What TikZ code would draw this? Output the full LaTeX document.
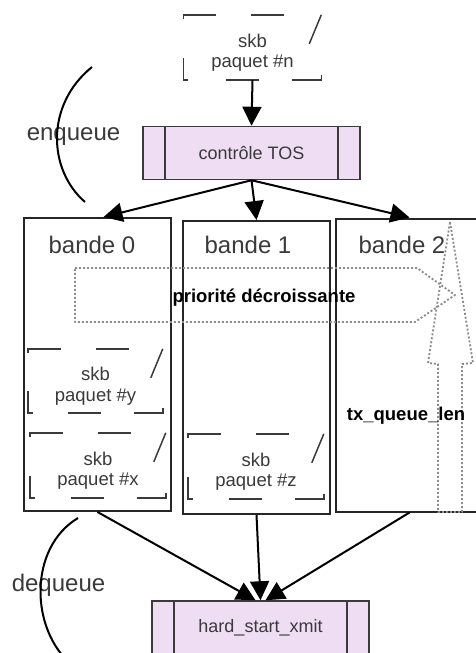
\documentclass[tikz,border=0pt]{standalone}
\usepackage{fontspec}
\setmainfont{Liberation Sans}
\usetikzlibrary{arrows.meta}

\definecolor{procfill}{HTML}{EFDDF3}
\definecolor{ink}{HTML}{3A3A3A}
\definecolor{dotgrey}{HTML}{8C8C8C}

% broken dashed frame of an skb packet, drawn from the node's top-left corner
% #1 node name, #2 width, #3 height
\newcommand\skbframe[3]{%
  \begin{scope}[shift={(#1.north west)}, skbline]
    \draw (0,4) -- (0,0) -- (33,0);
    \draw (68,0) -- (101,0);
    \draw (#2,0) -- ({#2-12},29);
    \draw (#2,{#3-5}) -- (#2,#3) -- ({#2-29},#3);
    \draw ({#2-62},#3) -- ({#2-95},#3);
    \draw (5,#3) -- (0,#3) -- (0,{#3-22});
  \end{scope}}

% taller first line, so the two text lines sit a little low in the frame
\newcommand\skbstrut{\rule{0pt}{24pt}}

\tikzset{
  band/.style={draw=black!85, line width=2pt, minimum width=147pt,
    minimum height=293pt, inner sep=0pt},
  proc/.style={draw=ink, line width=1.5pt, fill=procfill, minimum width=217pt,
    minimum height=53pt, inner sep=0pt, text=ink,
    font=\fontsize{18}{20}\selectfont,
    path picture={\draw[ink, line width=1.5pt]
      ([xshift=22pt]path picture bounding box.north west) --
      ([xshift=22pt]path picture bounding box.south west)
      ([xshift=-22pt]path picture bounding box.north east) --
      ([xshift=-22pt]path picture bounding box.south east);}},
  skbbox/.style={minimum width=136pt, minimum height=65pt, inner sep=0pt,
    align=center, text=ink, font=\fontsize{18.5}{20.5}\selectfont},
  skbline/.style={draw=ink, line width=1.5pt},
  arr/.style={-{Triangle[length=19pt,width=19pt]}, line width=2pt, black},
  dotarrow/.style={draw=dotgrey, line width=1.8pt, dash pattern=on 2pt off 2pt,
    line join=round},
  biglabel/.style={text=ink, font=\fontsize{24}{26}\selectfont, inner sep=0pt},
  boldlabel/.style={text=black, font=\bfseries\fontsize{18.5}{20}\selectfont,
    inner sep=0pt},
}

\begin{document}
\begin{tikzpicture}[x=1pt, y=-1pt]
  \clip (0,0) rectangle (476,653);
  \fill[white] (0,0) rectangle (476,653);

  % incoming packet and TOS classifier
  \node[skbbox, minimum width=138pt] (pn) at (252.5,47.5) {\skbstrut skb\\paquet \#n};
  \skbframe{pn}{138}{65}
  \node[proc] (tos) at (251.5,153) {contrôle TOS};

  % the three bands
  \node[band] (b0) at (97.5,364.5) {};
  \node[band] (b1) at (256.5,367.5) {};
  \node[band] (b2) at (409.5,365) {};
  \node[biglabel] (t0) at (92,245) {bande 0};
  \node[biglabel] (t1) at (248,245) {bande 1};
  \node[biglabel] (t2) at (402,245) {bande 2};

  % queued packets
  \node[skbbox, minimum width=135pt, minimum height=64pt] (py) at (95.5,381) {\skbstrut skb\\paquet \#y};
  \skbframe{py}{135}{64}
  \node[skbbox] (px) at (98,465.5) {\skbstrut skb\\paquet \#x};
  \skbframe{px}{136}{65}
  \node[skbbox] (pz) at (256,466.5) {\skbstrut skb\\paquet \#z};
  \skbframe{pz}{136}{65}

  % driver transmit routine
  \node[proc, minimum height=54pt] (hard) at (260.5,628) {hard\_start\_xmit};

  % dotted block arrows
  \draw[dotarrow] (75,268) -- (417,268) -- (455,295) -- (415,322) -- (75,322) -- cycle;
  \draw[dotarrow] (450,222) -- (473,363) -- (462,364) -- (462,512) -- (438,512)
    -- (438,364) -- (428,363) -- cycle;
  \node[boldlabel] (prio) at (264,298) {priorité décroissante};
  \node[boldlabel] (txq) at (406,416) {tx\_queue\_len};

  % connectors
  \draw[arr] (pn.south) -- (tos.north);
  \draw[arr] (tos.south) -- ([xshift=6pt]b0.north);
  \draw[arr] (tos.south) -- (b1.north);
  \draw[arr] (tos.south) -- (b2.north);
  \draw[arr] (b0.south) -- ([xshift=-5pt]hard.north);
  \draw[arr] (b1.south) -- (hard.north);
  \draw[arr] (b2.south) -- ([xshift=5pt]hard.north);

  % enqueue / dequeue arcs
  \node[biglabel] (enq) at (73.5,137) {enqueue};
  \draw[line width=2pt, black] (92,67) .. controls (45,105) and (48,170) .. (85,202);
  \node[biglabel] (deq) at (58.5,585) {dequeue};
  \draw[line width=2pt, black] (78,518) .. controls (28,548) and (30,630) .. (72,665);
\end{tikzpicture}
\end{document}
